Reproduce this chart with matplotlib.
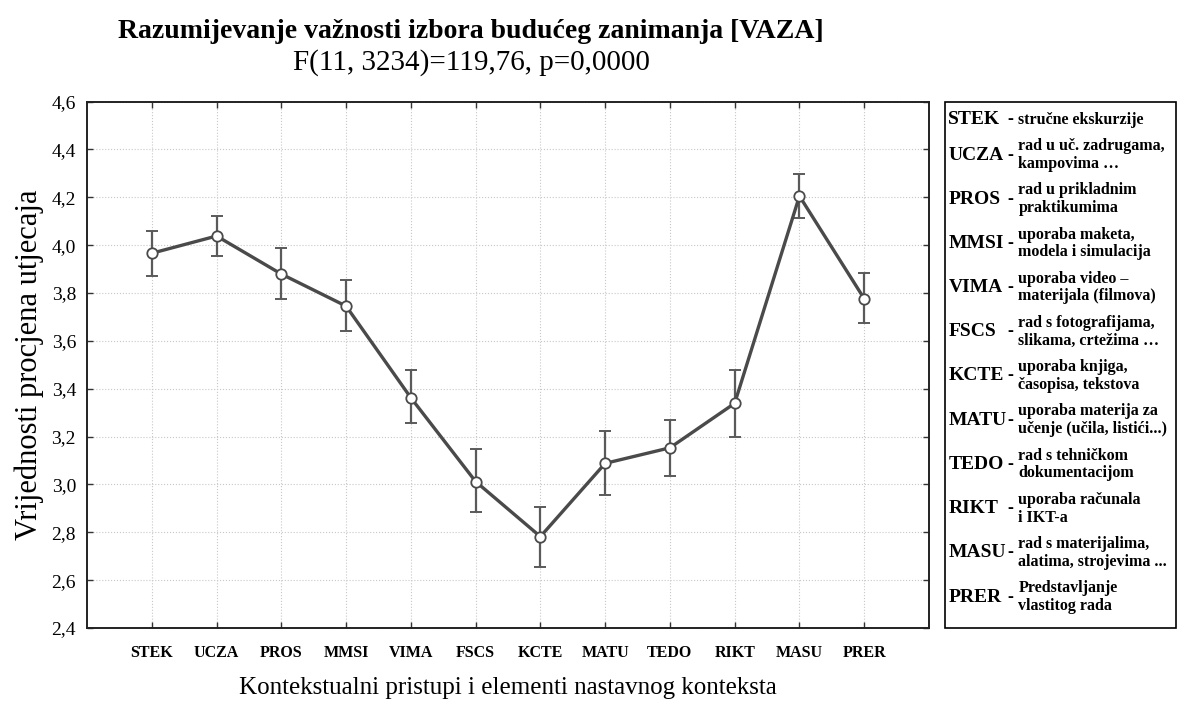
import matplotlib
matplotlib.use('Agg')
import matplotlib.pyplot as plt
from matplotlib.patches import Rectangle

# data
codes = ['STEK', 'UCZA', 'PROS', 'MMSI', 'VIMA', 'FSCS',
         'KCTE', 'MATU', 'TEDO', 'RIKT', 'MASU', 'PRER']
means = [3.966, 4.038, 3.879, 3.745, 3.362, 3.012,
         2.782, 3.088, 3.153, 3.339, 4.205, 3.776]
upper = [4.060, 4.123, 3.987, 3.855, 3.478, 3.148,
         2.907, 3.224, 3.269, 3.480, 4.298, 3.885]
lower = [3.872, 3.956, 3.776, 3.640, 3.256, 2.884,
         2.656, 2.954, 3.037, 3.200, 4.114, 3.673]
descriptions = [
    'stručne ekskurzije',
    'rad u uč. zadrugama,\nkampovima …',
    'rad u prikladnim\npraktikumima',
    'uporaba maketa,\nmodela i simulacija',
    'uporaba video –\nmaterijala (filmova)',
    'rad s fotografijama,\nslikama, crtežima …',
    'uporaba knjiga,\nčasopisa, tekstova',
    'uporaba materija za\nučenje (učila, listići...)',
    'rad s tehničkom\ndokumentacijom',
    'uporaba računala\ni IKT-a',
    'rad s materijalima,\nalatima, strojevima ...',
    'Predstavljanje\nvlastitog rada',
]
yticks = [2.4, 2.6, 2.8, 3.0, 3.2, 3.4, 3.6, 3.8, 4.0, 4.2, 4.4, 4.6]

title = 'Razumijevanje važnosti izbora budućeg zanimanja [VAZA]'
subtitle = 'F(11, 3234)=119,76, p=0,0000'
xlabel = 'Kontekstualni pristupi i elementi nastavnog konteksta'
ylabel = 'Vrijednosti procjena utjecaja'

plt.rcParams['font.family'] = ['Liberation Serif', 'DejaVu Serif']

fig = plt.figure(figsize=(11.78, 7.02), dpi=100)
ax = fig.add_axes([0.0739, 0.1054, 0.7147, 0.7500])

x = list(range(1, len(codes) + 1))
yerr = [[m - l for m, l in zip(means, lower)],
        [u - m for m, u in zip(means, upper)]]

ax.errorbar(x, means, yerr=yerr, fmt='none', ecolor='#5a5a5a',
            elinewidth=1.6, capsize=4.5, capthick=1.4, zorder=3)
ax.plot(x, means, color='#4a4a4a', lw=2.4, marker='o', ms=7.5,
        mfc='white', mec='#4a4a4a', mew=1.3, zorder=4)

ax.set_xlim(0, 13)
ax.set_ylim(2.4, 4.6)
ax.set_xticks(x)
ax.set_xticklabels(codes, fontsize=11.5, fontweight='bold')
ax.set_yticks(yticks)
ax.set_yticklabels([f'{v:.1f}'.replace('.', ',') for v in yticks], fontsize=14)
ax.tick_params(direction='in', top=True, right=True, length=4, width=1,
               color='#333333')
ax.tick_params(axis='x', pad=12)
ax.tick_params(axis='y', pad=8)
ax.grid(True, color='#c8c8c8', ls=':', lw=0.8)
ax.set_axisbelow(True)
for s in ax.spines.values():
    s.set_linewidth(1.4)
    s.set_color('#222222')

ax.set_xlabel(xlabel, fontsize=18, labelpad=12)
ax.set_ylabel(ylabel, fontsize=22, labelpad=5)

fig.text(0.40, 0.955, title, ha='center', va='center', fontsize=20,
         fontweight='bold')
fig.text(0.40, 0.911, subtitle, ha='center', va='center', fontsize=21)

# side legend box
fig.add_artist(Rectangle((0.802, 0.1054), 0.196, 0.7500, transform=fig.transFigure,
                         fill=False, ec='black', lw=1.2))
ycode = [120] + [155 + 44.2 * i for i in range(11)]
for c, d, yp in zip(codes, descriptions, ycode):
    yf = 1 - yp / 702
    fig.text(0.805, yf, c, ha='left', va='center', fontsize=14, fontweight='bold')
    fig.text(0.8575, yf, '-', ha='center', va='center', fontsize=13, fontweight='bold')
    fig.text(0.8645, yf, d, ha='left', va='center', fontsize=11.5, fontweight='bold',
             linespacing=1.15)

fig.savefig('out.png', dpi=100)
